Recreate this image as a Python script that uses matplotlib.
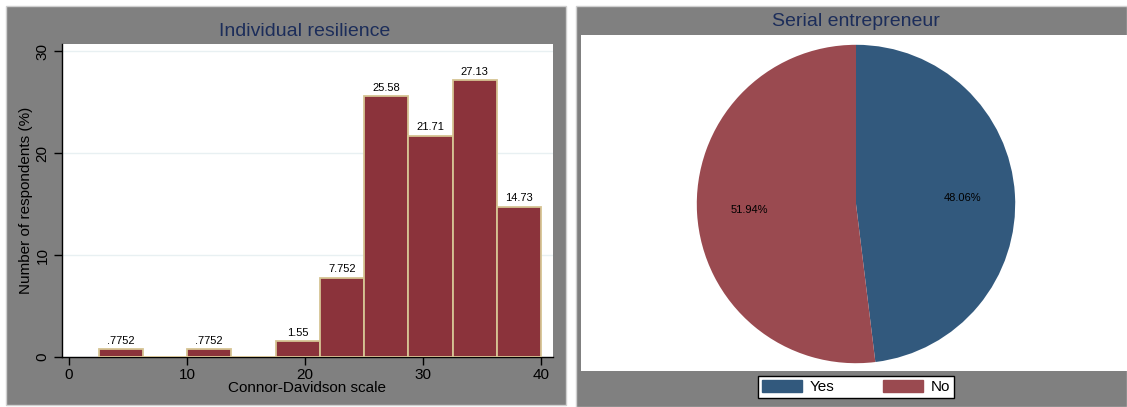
import matplotlib
matplotlib.use('Agg')
import matplotlib.pyplot as plt
from matplotlib.patches import Rectangle, Patch

plt.rcParams['font.family'] = ['Liberation Sans', 'DejaVu Sans']

# histogram data (percent of respondents per bin)
bin_edges = [2.5, 6.25, 10, 13.75, 17.5, 21.25, 25, 28.75, 32.5, 36.25, 40]
bin_pct = [0.7752, 0, 0.7752, 0, 1.55, 7.752, 25.58, 21.71, 27.13, 14.73]
bin_labels = ['.7752', '', '.7752', '', '1.55', '7.752', '25.58', '21.71', '27.13', '14.73']
x_ticks = [0, 10, 20, 30, 40]
y_ticks = [0, 10, 20, 30]

# pie data
pie_labels = ['Yes', 'No']
pie_pct = [48.06, 51.94]
pie_text = ['48.06%', '51.94%']

W, H = 1127, 407
gray = '#808080'
title_col = '#1c2d5a'
bar_col = '#8b333b'
bar_edge = '#d6c493'
pie_cols = ['#32597d', '#9a4a50']

fig = plt.figure(figsize=(W / 100, H / 100), dpi=100)
fig.patch.set_facecolor('white')


def px(x0, y0, x1, y1):
    # pixel box (top-left origin) -> figure fraction rect
    return [x0 / W, 1 - y1 / H, (x1 - x0) / W, (y1 - y0) / H]


# background layer: gray graph regions + white pie plot region
bg = fig.add_axes([0, 0, 1, 1], zorder=-1)
bg.set_xlim(0, W)
bg.set_ylim(H, 0)
bg.axis('off')
bg.add_patch(Rectangle((6, 6), 560, 399, facecolor=gray, edgecolor='#d0d0d0', lw=1))
bg.add_patch(Rectangle((576, 6), 551, 401, facecolor=gray, edgecolor='#d0d0d0', lw=1))
bg.add_patch(Rectangle((581, 35), 546, 336, facecolor='white', edgecolor='none'))

# ---- left: histogram
ax = fig.add_axes(px(62, 44, 553, 357), zorder=2)
ax.set_facecolor('white')
lefts = bin_edges[:-1]
widths = [b - a for a, b in zip(bin_edges[:-1], bin_edges[1:])]
ax.bar(lefts, bin_pct, width=widths, align='edge', color=bar_col,
       edgecolor=bar_edge, linewidth=1.3, zorder=3)
for l, w, v, s in zip(lefts, widths, bin_pct, bin_labels):
    if s:
        ax.text(l + w / 2, v + 0.35, s, ha='center', va='bottom', fontsize=8, zorder=4)
ax.set_xlim(-0.6, 41.0)
ax.set_ylim(0, 30.7)
ax.set_xticks(x_ticks)
ax.set_yticks(y_ticks)
ax.set_yticklabels([str(t) for t in y_ticks], rotation=90, va='center')
ax.tick_params(labelsize=11, length=6, width=1, color='black', pad=2)
ax.tick_params(axis='y', pad=3)
ax.grid(axis='y', color='#e8f0f2', lw=1, zorder=0)
for s in ['top', 'right']:
    ax.spines[s].set_visible(False)
ax.spines['left'].set_linewidth(1)
ax.spines['bottom'].set_linewidth(1)
ax.set_xlabel('Connor-Davidson scale', fontsize=11, labelpad=-1)
ax.set_ylabel('Number of respondents (%)', fontsize=11, labelpad=2)
fig.text(305 / W, 1 - 31 / H, 'Individual resilience', ha='center', va='center',
         fontsize=14, color=title_col)

# ---- right: pie
pax = fig.add_axes(px(856 - 160, 204 - 160, 856 + 160, 204 + 160), zorder=2)
wedges, texts = pax.pie(pie_pct, colors=pie_cols, startangle=90, counterclock=False,
                        labels=pie_text, labeldistance=0.67,
                        textprops={'fontsize': 8, 'color': 'black', 'ha': 'center'})
pax.set_xlim(-1.005, 1.005)
pax.set_ylim(-1.005, 1.005)
pax.set_aspect('equal')
fig.text(856 / W, 1 - 22 / H, 'Serial entrepreneur', ha='center', va='center',
         fontsize=14, color=title_col)

handles = [Patch(facecolor=c, edgecolor=c) for c in pie_cols]
leg = fig.legend(handles, pie_labels, loc='center', bbox_to_anchor=(856 / W, 1 - 387 / H),
                 ncol=2, fontsize=11, frameon=True, fancybox=False, edgecolor='black',
                 facecolor='white', framealpha=1,
                 handlelength=2.6, handleheight=0.9, columnspacing=3.2, borderpad=0.25,
                 handletextpad=0.5, borderaxespad=0)
leg.get_frame().set_linewidth(1)

fig.savefig('out.png', dpi=100)
